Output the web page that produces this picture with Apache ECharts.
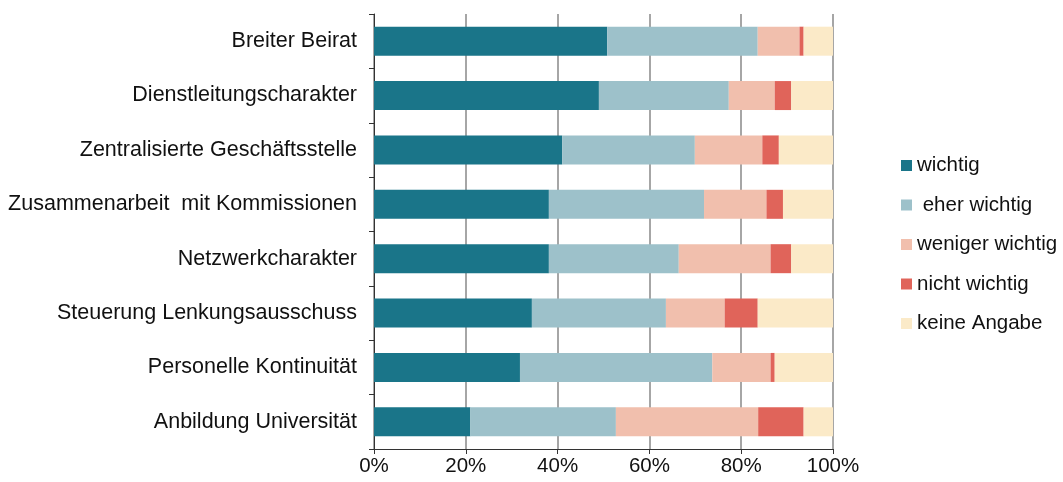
<!DOCTYPE html>
<html>
<head>
    <meta charset="utf-8">
    <title>Wichtigkeit</title>
    <script src="https://cdn.jsdelivr.net/npm/echarts@6/dist/echarts.min.js"></script>
    <style>
        body { margin: 0; background: #fff; }
    </style>
</head>
<body>
<div id="main" style="width: 1063px;height:482px;"></div>
<script type="text/javascript">
    // Kategorien (von oben nach unten)
    var categories = ['Breiter Beirat', 'Dienstleitungscharakter', 'Zentralisierte Geschäftsstelle',
        'Zusammenarbeit  mit Kommissionen', 'Netzwerkcharakter', 'Steuerung Lenkungsausschuss',
        'Personelle Kontinuität', 'Anbildung Universität'];

    // Anteile in %
    var wichtig        = [50.8, 49.0, 41.0, 38.1, 38.1, 34.4, 31.8, 21.0];
    var eherWichtig    = [32.8, 28.3, 28.9, 33.8, 28.3, 29.2, 41.9, 31.7];
    var wenigerWichtig = [9.1, 10.0, 14.7, 13.6, 20.0, 12.8, 12.7, 31.0];
    var nichtWichtig   = [0.9, 3.6, 3.6, 3.6, 4.5, 7.2, 0.9, 9.9];
    var keineAngabe    = [6.4, 9.1, 11.8, 10.9, 9.1, 16.4, 12.7, 6.4];

    var names = ['wichtig', ' eher wichtig', 'weniger wichtig', 'nicht wichtig', 'keine Angabe'];
    var values = [wichtig, eherWichtig, wenigerWichtig, nichtWichtig, keineAngabe];
    var colors = ['#1a7589', '#9dc1ca', '#f1bfad', '#e0645a', '#fbeac8'];

    var series = [];
    names.forEach(function(name, i) {
        series.push({
            name: name,
            type: 'bar',
            stack: 'total',
            barWidth: 29,
            itemStyle: { color: colors[i] },
            data: values[i]
        });
    });

    var myChart = echarts.init(document.getElementById('main'));
    var font = 'Liberation Sans, Arial, sans-serif';
    var option = {
        animation: false,
        textStyle: { fontFamily: font },
        grid: { left: 374, right: 230, top: 14, bottom: 33 },
        legend: {
            orient: 'vertical',
            left: 901,
            top: 155,
            padding: 0,
            itemWidth: 11,
            itemHeight: 11,
            itemGap: 18.5,
            icon: 'rect',
            textStyle: { fontSize: 20.5, color: '#111', fontFamily: font, padding: [0, 0, 0, 0] },
            data: names
        },
        xAxis: {
            type: 'value',
            min: 0,
            max: 100,
            interval: 20,
            axisLine: { show: true, lineStyle: { color: '#333', width: 1 } },
            axisTick: { show: true, length: 5, lineStyle: { color: '#333' } },
            axisLabel: { formatter: '{value}%', fontSize: 20.5, color: '#111', margin: 7, fontFamily: font },
            splitLine: { show: true, lineStyle: { color: '#888', width: 1.5 } }
        },
        yAxis: {
            type: 'category',
            inverse: true,
            data: categories,
            axisLine: { show: true, lineStyle: { color: '#333', width: 1 } },
            axisTick: { show: true, length: 5, lineStyle: { color: '#333' } },
            axisLabel: { fontSize: 21.5, color: '#111', margin: 17, fontFamily: font }
        },
        series: series
    };
    myChart.setOption(option);
</script>
</body>
</html>
